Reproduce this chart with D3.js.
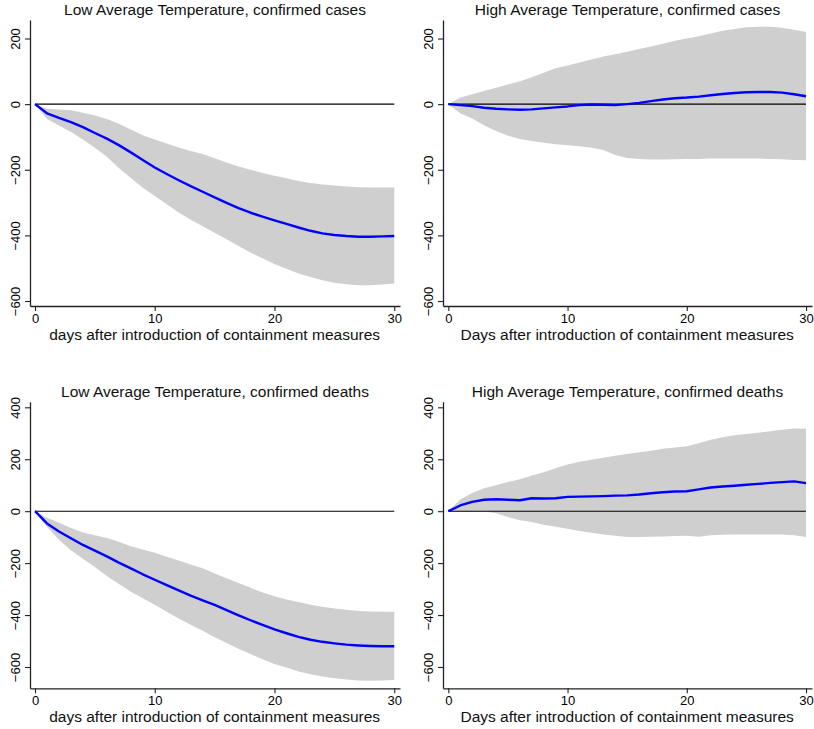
<!DOCTYPE html>
<html>
<head>
<meta charset="utf-8">
<script src="https://cdn.jsdelivr.net/npm/d3@7/dist/d3.min.js"></script>
<style>
  html, body { margin: 0; padding: 0; background: #fff; }
  svg { display: block; font-family: "Liberation Sans", Arial, sans-serif; }
</style>
</head>
<body>
<svg id="chart" width="814" height="729"></svg>
<script>
// ---------- data ----------
const days = d3.range(0, 31);

const titles = [
  "Low Average Temperature, confirmed cases",
  "High Average Temperature, confirmed cases",
  "Low Average Temperature, confirmed deaths",
  "High Average Temperature, confirmed deaths"
];
const xLabels = [
  "days after introduction of containment measures",
  "Days after introduction of containment measures",
  "days after introduction of containment measures",
  "Days after introduction of containment measures"
];
const xTicks = [0, 10, 20, 30];
const yTicksCases = [200, 0, -200, -400, -600];
const yTicksDeaths = [400, 200, 0, -200, -400, -600];

// Low temperature, confirmed cases
const lowCasesMean  = [0,-28,-42,-55,-70,-88,-105,-125,-147,-170,-193,-213,-232,-250,-267,-284,-301,-317,-331,-343,-354,-365,-376,-386,-394,-399,-402,-404,-404,-403,-402];
const lowCasesUpper = [0,-14,-16,-19,-26,-35,-45,-60,-77,-95,-108,-120,-132,-143,-152,-165,-178,-190,-200,-210,-218,-226,-234,-240,-245,-248,-251,-253,-254,-254,-254];
const lowCasesLower = [0,-45,-65,-85,-108,-133,-160,-195,-225,-255,-280,-305,-330,-352,-372,-392,-412,-432,-452,-470,-487,-502,-516,-527,-537,-544,-549,-552,-552,-550,-547];

// High temperature, confirmed cases
const highCasesMean  = [0,-3,-6,-11,-14,-16,-17,-16,-13,-10,-7,-3,-1,-2,-3,0,4,9,14,18,20,23,27,31,34,36,37,37,35,30,24];
const highCasesUpper = [0,20,30,40,50,60,70,82,96,109,118,127,136,145,152,160,168,176,184,193,200,207,215,224,229,234,236,236,233,227,220];
const highCasesLower = [0,-28,-44,-64,-82,-96,-106,-112,-118,-122,-125,-128,-133,-140,-155,-164,-167,-169,-169,-168,-167,-167,-166,-166,-166,-166,-166,-167,-168,-170,-171];

// Low temperature, confirmed deaths
const lowDeathsMean  = [0,-47,-78,-104,-130,-152,-174,-198,-220,-243,-264,-285,-305,-325,-343,-361,-381,-401,-420,-438,-455,-470,-484,-495,-503,-509,-514,-517,-519,-520,-520];
const lowDeathsUpper = [0,-25,-45,-65,-82,-93,-103,-118,-135,-148,-160,-175,-190,-205,-220,-240,-258,-277,-295,-313,-328,-340,-350,-360,-368,-375,-380,-384,-386,-387,-387];
const lowDeathsLower = [0,-60,-110,-150,-183,-215,-250,-280,-310,-335,-360,-387,-413,-437,-460,-485,-508,-530,-550,-570,-588,-602,-617,-628,-637,-643,-648,-652,-653,-652,-650];

// High temperature, confirmed deaths
const highDeathsMean  = [0,22,36,44,46,44,42,50,49,50,55,56,57,58,60,61,64,69,73,76,77,84,91,95,98,102,105,109,112,115,108];
const highDeathsUpper = [0,45,70,88,100,112,123,137,150,165,180,190,198,206,213,220,227,233,240,245,250,262,275,285,292,297,302,308,314,318,317];
const highDeathsLower = [0,-2,-2,-1,-8,-22,-35,-42,-52,-60,-68,-76,-83,-90,-95,-99,-99,-98,-97,-96,-95,-98,-93,-91,-90,-90,-90,-90,-90,-93,-99];

// ---------- layout ----------
const panels = [
  { mean: lowCasesMean,   upper: lowCasesUpper,   lower: lowCasesLower,   yTicks: yTicksCases,
    x0: 30,  x1: 400, xDom: [-0.417, 30.48], yTop: 20,  yBot: 306,   yDom: [-615.2, 256.4] },
  { mean: highCasesMean,  upper: highCasesUpper,  lower: highCasesLower,  yTicks: yTicksCases,
    x0: 443, x1: 812, xDom: [-0.445, 30.5],  yTop: 20,  yBot: 306,   yDom: [-615.2, 256.4] },
  { mean: lowDeathsMean,  upper: lowDeathsUpper,  lower: lowDeathsLower,  yTicks: yTicksDeaths,
    x0: 30,  x1: 400, xDom: [-0.417, 30.48], yTop: 401.7, yBot: 688.3, yDom: [-682, 421.6] },
  { mean: highDeathsMean, upper: highDeathsUpper, lower: highDeathsLower, yTicks: yTicksDeaths,
    x0: 443, x1: 812, xDom: [-0.445, 30.5],  yTop: 401.7, yBot: 688.3, yDom: [-682, 421.6] }
];

const svg = d3.select("#chart");

panels.forEach((p, i) => {
  const x = d3.scaleLinear().domain(p.xDom).range([p.x0, p.x1]);
  const y = d3.scaleLinear().domain(p.yDom).range([p.yBot, p.yTop]);
  const g = svg.append("g");

  const rows = days.map((d, k) => ({ d, m: p.mean[k], u: p.upper[k], l: p.lower[k] }));

  // confidence band
  g.append("path")
    .datum(rows)
    .attr("fill", "#cfcfcf")
    .attr("stroke", "none")
    .attr("d", d3.area().x(r => x(r.d)).y0(r => y(r.l)).y1(r => y(r.u)));

  // zero reference line
  g.append("line")
    .attr("x1", x(0)).attr("x2", x(30))
    .attr("y1", y(0)).attr("y2", y(0))
    .attr("stroke", "#000").attr("stroke-width", 1.1);

  // mean response
  g.append("path")
    .datum(rows)
    .attr("fill", "none")
    .attr("stroke", "#0000ff")
    .attr("stroke-width", 2.4)
    .attr("stroke-linejoin", "round")
    .attr("d", d3.line().x(r => x(r.d)).y(r => y(r.m)));

  // x axis
  const xa = g.append("g")
    .attr("transform", `translate(0,${p.yBot})`)
    .call(d3.axisBottom(x).tickValues(xTicks).tickSize(5).tickSizeOuter(0).tickPadding(3).tickFormat(d3.format("d")));
  // y axis
  const ya = g.append("g")
    .attr("transform", `translate(${p.x0},0)`)
    .call(d3.axisLeft(y).tickValues(p.yTicks).tickSize(5).tickSizeOuter(0).tickFormat(d3.format("d")));

  [xa, ya].forEach(a => {
    a.select(".domain").attr("stroke", "#222").attr("stroke-width", 1.3);
    a.selectAll(".tick line").attr("stroke", "#222").attr("stroke-width", 1.1);
    a.selectAll("text").attr("fill", "#000").style("font-size", "13px")
      .style("font-family", '"Liberation Sans", Arial, sans-serif');
  });
  xa.selectAll(".tick text").attr("dy", "0.68em");
  ya.selectAll(".tick text")
    .attr("transform", "rotate(-90)")
    .attr("x", 0).attr("y", -10.5).attr("dy", "0")
    .attr("text-anchor", "middle");

  // title
  g.append("text")
    .attr("x", (p.x0 + p.x1) / 2)
    .attr("y", p.yTop - 5)
    .attr("text-anchor", "middle")
    .style("font-size", "15.5px")
    .attr("fill", "#111")
    .text(titles[i]);

  // x label
  g.append("text")
    .attr("x", (x(0) + x(30)) / 2)
    .attr("y", p.yBot + 33.5)
    .attr("text-anchor", "middle")
    .style("font-size", "15.5px")
    .attr("fill", "#111")
    .text(xLabels[i]);
});
</script>
</body>
</html>
